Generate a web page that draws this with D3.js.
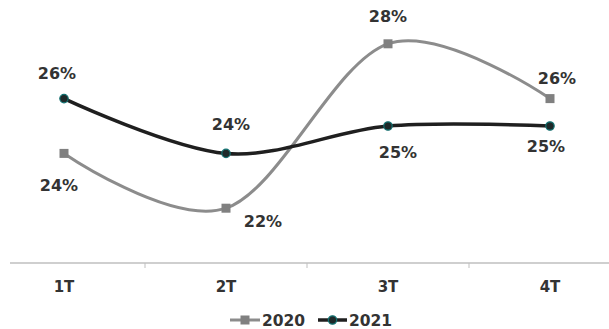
<!DOCTYPE html>
<html>
<head>
<meta charset="utf-8">
<script src="https://cdn.jsdelivr.net/npm/d3@7"></script>
<style>
  body { margin: 0; background: #fff; }
  text { font-family: "DejaVu Sans", Verdana, sans-serif; font-weight: bold; fill: #333; }
</style>
</head>
<body>
<div id="chart"></div>
<script>
// data
const quarters = ["1T", "2T", "3T", "4T"]
const values2020 = [24, 22, 28, 26]
const values2021 = [26, 24, 25, 25]
const labels2020 = ["24%", "22%", "28%", "26%"]
const labels2021 = ["26%", "24%", "25%", "25%"]

const width = 609, height = 329

const svg = d3.select("#chart").append("svg")
  .attr("width", width)
  .attr("height", height)

const x = d3.scaleBand().domain(quarters).range([-17, 631])
const cx = d => x(d) + x.bandwidth() / 2
const y = d3.scaleLinear().domain([20, 30]).range([263, -11])

// axis
svg.append("line")
  .attr("x1", 10).attr("x2", width).attr("y1", y(20)).attr("y2", y(20))
  .attr("stroke", "#bfbfbf").attr("stroke-width", 1.5)

quarters.slice(1).forEach(q => {
  svg.append("line")
    .attr("x1", x(q)).attr("x2", x(q)).attr("y1", y(20)).attr("y2", y(20) + 5)
    .attr("stroke", "#bfbfbf").attr("stroke-width", 1)
})

svg.selectAll(".xlab").data(quarters).join("text")
  .attr("class", "xlab")
  .attr("x", d => cx(d))
  .attr("y", 292)
  .attr("text-anchor", "middle")
  .style("font-size", "15px")
  .text(d => d)

const line = d3.line()
  .x((d, i) => cx(quarters[i]))
  .y(d => y(d))
  .curve(d3.curveCardinal.tension(0))

// 2020 series
svg.append("path").datum(values2020)
  .attr("d", line)
  .attr("fill", "none")
  .attr("stroke", "#8c8c8c")
  .attr("stroke-width", 3)

svg.selectAll(".m2020").data(values2020).join("rect")
  .attr("class", "m2020")
  .attr("x", (d, i) => cx(quarters[i]) - 4.5)
  .attr("y", d => y(d) - 4.5)
  .attr("width", 9).attr("height", 9)
  .attr("fill", "#808080")

// 2021 series
svg.append("path").datum(values2021)
  .attr("d", line)
  .attr("fill", "none")
  .attr("stroke", "#1f1f1f")
  .attr("stroke-width", 3.5)

svg.selectAll(".m2021").data(values2021).join("circle")
  .attr("class", "m2021")
  .attr("cx", (d, i) => cx(quarters[i]))
  .attr("cy", d => y(d))
  .attr("r", 4.2)
  .attr("fill", "#1f2a2a")
  .attr("stroke", "#137272")
  .attr("stroke-width", 1.2)

// data labels (offsets relative to the point)
const off2020 = [[-5, 38], [37, 19], [0, -22], [7, -15]]
const off2021 = [[-7, -20], [5, -23], [10, 32], [-4, 26]]

svg.selectAll(".l2020").data(values2020).join("text")
  .attr("class", "l2020")
  .attr("x", (d, i) => cx(quarters[i]) + off2020[i][0])
  .attr("y", (d, i) => y(d) + off2020[i][1])
  .attr("text-anchor", "middle")
  .style("font-size", "16px")
  .text((d, i) => labels2020[i])

svg.selectAll(".l2021").data(values2021).join("text")
  .attr("class", "l2021")
  .attr("x", (d, i) => cx(quarters[i]) + off2021[i][0])
  .attr("y", (d, i) => y(d) + off2021[i][1])
  .attr("text-anchor", "middle")
  .style("font-size", "16px")
  .text((d, i) => labels2021[i])

// legend
const lg = svg.append("g").attr("transform", "translate(0,320)")
lg.append("line").attr("x1", 230).attr("x2", 260).attr("y1", 0).attr("y2", 0)
  .attr("stroke", "#8c8c8c").attr("stroke-width", 3)
lg.append("rect").attr("x", 240.5).attr("y", -4.5).attr("width", 9).attr("height", 9).attr("fill", "#808080")
lg.append("text").attr("x", 262).attr("y", 6).style("font-size", "15.5px").text("2020")

lg.append("line").attr("x1", 318).attr("x2", 347).attr("y1", 0).attr("y2", 0)
  .attr("stroke", "#1f1f1f").attr("stroke-width", 3.5)
lg.append("circle").attr("cx", 332.5).attr("cy", 0).attr("r", 4.2)
  .attr("fill", "#1f2a2a").attr("stroke", "#137272").attr("stroke-width", 1.2)
lg.append("text").attr("x", 349).attr("y", 6).style("font-size", "15.5px").text("2021")
</script>
</body>
</html>
